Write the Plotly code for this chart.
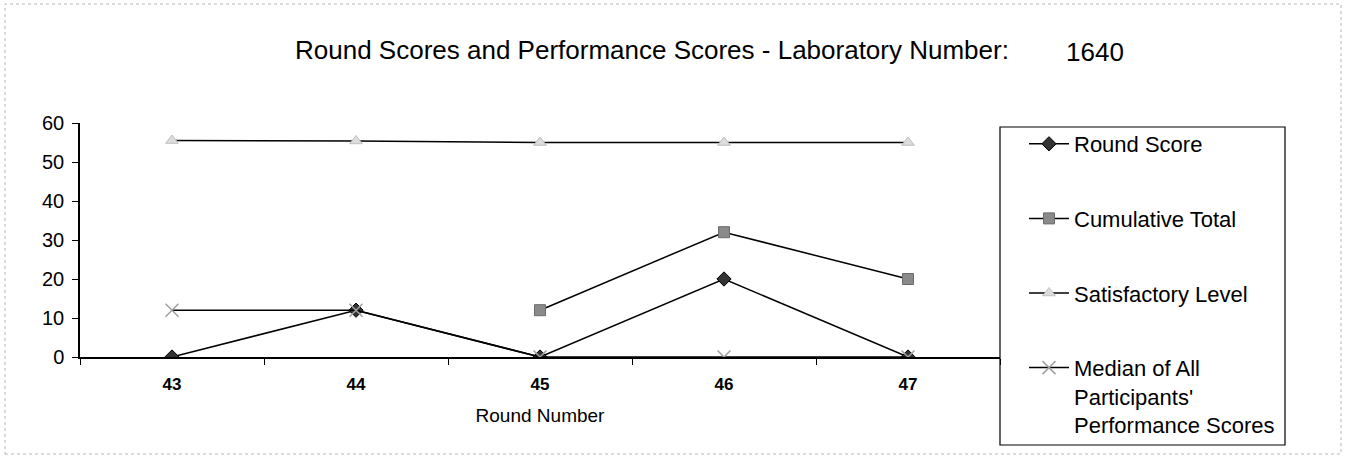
import plotly.graph_objects as go

# Données
rounds = ["43", "44", "45", "46", "47"]
round_score = [0, 12, 0, 20, 0]
cumulative_total = [None, None, 12, 32, 20]
satisfactory_level = [55.5, 55.4, 55, 55, 55]
median_scores = [12, 12, 0, 0, 0]

FONT = "Liberation Sans, Arial, sans-serif"

fig = go.Figure()

series = [
    ("Round Score", round_score, dict(symbol="diamond", size=11, color="#333333",
                                      line=dict(color="black", width=1))),
    ("Cumulative Total", cumulative_total, dict(symbol="square", size=11, color="#8a8a8a",
                                                line=dict(color="#6a6a6a", width=1))),
    ("Satisfactory Level", satisfactory_level, dict(symbol="triangle-up", size=11, color="#dcdcdc",
                                                    line=dict(color="#c0c0c0", width=1))),
    ("Median of All<br>Participants'<br>Performance Scores", median_scores,
     dict(symbol="x-thin", size=13, color="#b0b0b0", line=dict(color="#a0a0a0", width=1.5))),
]

for i, (name, vals, marker) in enumerate(series):
    fig.add_trace(go.Scatter(
        x=rounds, y=vals, name=name, mode="lines+markers",
        line=dict(color="black", width=1.5),
        marker=marker, legendgroup=f"g{i}",
        connectgaps=False
    ))

W, H, L, R, T, B = 1346, 457, 80, 346, 123, 100
pw, ph = W - L - R, H - T - B


def px(x):
    return (x - L) / pw


def py(y):
    return (H - B - y) / ph


fig.update_layout(
    width=W, height=H,
    margin=dict(l=L, r=R, t=T, b=B, autoexpand=False),
    paper_bgcolor="white", plot_bgcolor="white",
    font=dict(family=FONT, size=20, color="black"),
    showlegend=True,
    legend=dict(x=px(1024), y=py(123), xanchor="left", yanchor="top",
                bgcolor="rgba(0,0,0,0)", borderwidth=0, maxheight=400,
                font=dict(size=22), tracegroupgap=43, itemwidth=40, valign="top"),
    xaxis=dict(type="category", range=[-0.5, 4.5], showline=True, linecolor="black",
               linewidth=1.5, ticks="outside", tickson="boundaries", ticklen=6,
               tickcolor="black", showgrid=False, zeroline=False, automargin=False,
               ticklabelstandoff=11,
               tickfont=dict(size=17, family="Liberation Sans, Arial", weight="bold"),
               title=dict(text="Round Number", font=dict(size=19), standoff=16)),
    yaxis=dict(range=[0, 60], tickvals=[0, 10, 20, 30, 40, 50, 60], showline=True,
               linecolor="black", linewidth=1.5, ticks="outside", ticklen=6,
               tickcolor="black", showgrid=False, zeroline=False, automargin=False,
               ticklabelstandoff=4, tickfont=dict(size=20)),
    shapes=[
        # cadre de la légende
        dict(type="rect", xref="paper", yref="paper", x0=px(1000), x1=px(1285),
             y0=py(445), y1=py(127), line=dict(color="black", width=1.2)),
        # cadre extérieur
        dict(type="rect", xref="paper", yref="paper", x0=px(5), x1=px(1341),
             y0=py(454), y1=py(4), line=dict(color="#b8b8b8", width=1, dash="dot")),
    ],
    annotations=[
        dict(text="Round Scores and Performance Scores - Laboratory Number:",
             xref="paper", yref="paper", x=px(293), y=py(50),
             xanchor="left", yanchor="middle", showarrow=False, font=dict(size=26)),
        dict(text="1640", xref="paper", yref="paper", x=px(1064), y=py(52),
             xanchor="left", yanchor="middle", showarrow=False, font=dict(size=26)),
    ],
)

# la marge par défaut du <body> décale la figure de 8 px : on la supprime
fig.write_html("out.html", config={"displayModeBar": False},
               post_script="document.body.style.margin='0';")
